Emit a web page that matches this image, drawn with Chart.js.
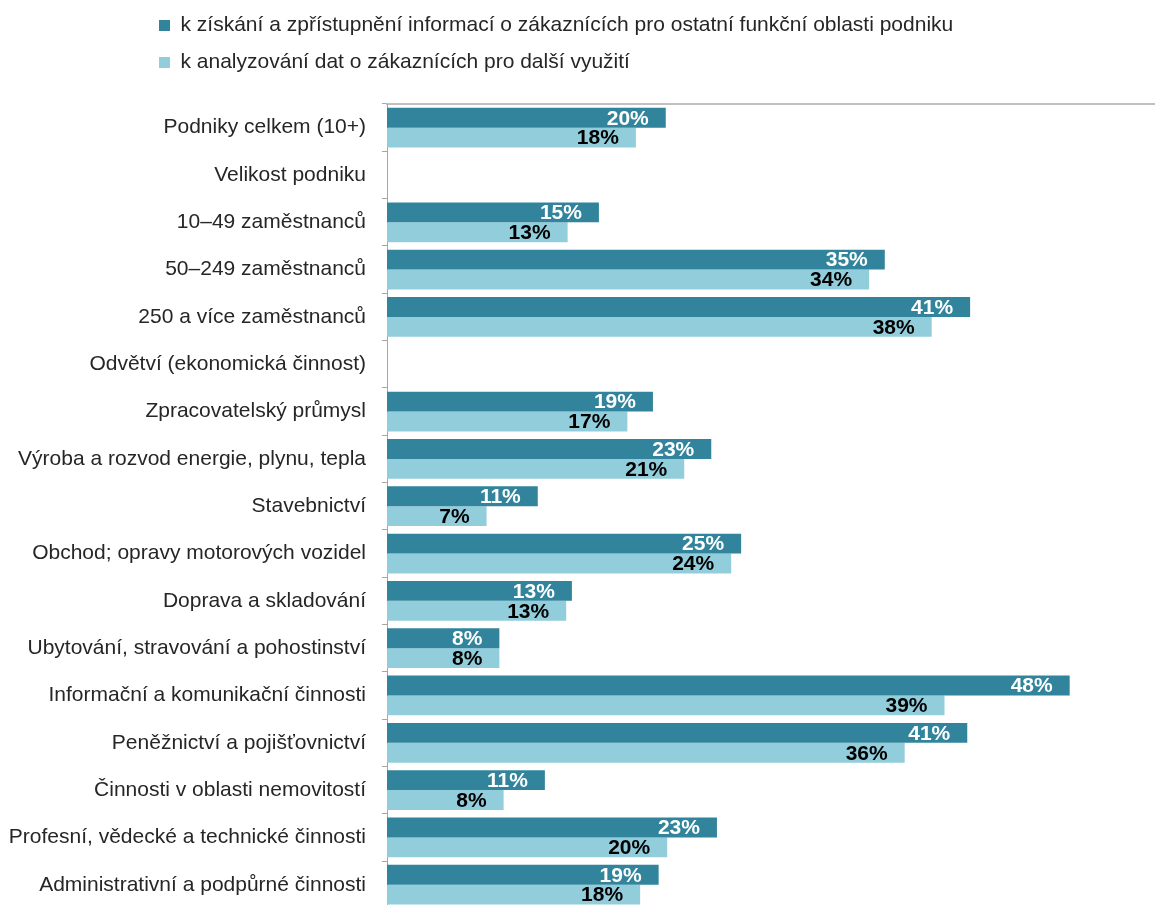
<!DOCTYPE html>
<html>
<head>
<meta charset="utf-8">
<script src="https://cdn.jsdelivr.net/npm/chart.js@4.4.0/dist/chart.umd.min.js"></script>
<style>
html, body { margin: 0; padding: 0; background: #fff; overflow: hidden; }
#wrap { position: relative; width: 1155px; height: 937px; }
</style>
</head>
<body>
<div id="wrap"><canvas id="myChartCanvas"></canvas></div>
<script>
const categories = [
    'Podniky celkem (10+)',
    'Velikost podniku',
    '10–49 zaměstnanců',
    '50–249 zaměstnanců',
    '250 a více zaměstnanců',
    'Odvětví (ekonomická činnost)',
    'Zpracovatelský průmysl',
    'Výroba a rozvod energie, plynu, tepla',
    'Stavebnictví',
    'Obchod; opravy motorových vozidel',
    'Doprava a skladování',
    'Ubytování, stravování a pohostinství',
    'Informační a komunikační činnosti',
    'Peněžnictví a pojišťovnictví',
    'Činnosti v oblasti nemovitostí',
    'Profesní, vědecké a technické činnosti',
    'Administrativní a podpůrné činnosti'
];
const series_names = [
    'k získání a zpřístupnění informací o zákaznících pro ostatní funkční oblasti podniku',
    'k analyzování dat o zákaznících pro další využití'
];
// percent values
const ziskani = [19.6, null, 14.9, 35.0, 41.0, null, 18.7, 22.8, 10.6, 24.9, 13.0, 7.9, 48.0, 40.8, 11.1, 23.2, 19.1];
const analyza = [17.5, null, 12.7, 33.9, 38.3, null, 16.9, 20.9, 7.0, 24.2, 12.6, 7.9, 39.2, 36.4, 8.2, 19.7, 17.8];

const bar_colors = ['#31849b', '#92cddc'];
const label_colors = ['#ffffff', '#000000'];
const font_family = '"Liberation Sans", Arial, sans-serif';

// move the legend to the left edge like in the original
const legend_shift = {
    id: 'legend_shift',
    afterLayout(chart) {
        chart.legend.left = 143;
        chart.legend.top = chart.legend.top - 1;
    }
};

// percent labels inside bar ends
const value_labels = {
    id: 'value_labels',
    afterDatasetsDraw(chart) {
        const ctx = chart.ctx;
        ctx.save();
        ctx.font = 'bold 21px ' + font_family;
        ctx.textAlign = 'right';
        ctx.textBaseline = 'middle';
        chart.data.datasets.forEach((ds, di) => {
            chart.getDatasetMeta(di).data.forEach((bar, i) => {
                const v = ds.data[i];
                if (v == null) return;
                ctx.fillStyle = label_colors[di];
                ctx.fillText(Math.round(v) + '%', bar.x - 17, bar.y + 1);
            });
        });
        ctx.restore();
    }
};

const data = {
    labels: categories,
    datasets: [
        { label: series_names[0], data: ziskani, backgroundColor: bar_colors[0] },
        { label: series_names[1], data: analyza, backgroundColor: bar_colors[1] }
    ]
};

new Chart(document.getElementById('myChartCanvas'), {
    type: 'bar',
    data: data,
    plugins: [legend_shift, value_labels],
    options: {
        indexAxis: 'y',
        responsive: true,
        maintainAspectRatio: false,
        animation: false,
        layout: { padding: 0 },
        datasets: {
            bar: { barPercentage: 1, categoryPercentage: 0.84 }
        },
        scales: {
            x: {
                position: 'top',
                min: 0,
                max: 54,
                ticks: { display: false },
                grid: { display: false, drawTicks: false },
                border: { display: true, color: '#c0c0c0', width: 2 },
                afterFit: function (s) { s.height = 20; }
            },
            y: {
                ticks: {
                    color: '#262626',
                    font: { size: 21, family: font_family },
                    padding: 16
                },
                grid: {
                    drawOnChartArea: false,
                    drawTicks: true,
                    tickLength: 5,
                    color: '#a6a6a6',
                    offset: true
                },
                border: { display: true, color: '#a6a6a6', width: 1 },
                afterFit: function (s) { s.width = 387; }
            }
        },
        plugins: {
            legend: {
                position: 'top',
                align: 'start',
                labels: {
                    boxWidth: 11,
                    boxHeight: 11,
                    padding: 16,
                    color: '#262626',
                    font: { size: 21, family: font_family }
                }
            },
            tooltip: { enabled: false }
        }
    }
});
</script>
</body>
</html>
